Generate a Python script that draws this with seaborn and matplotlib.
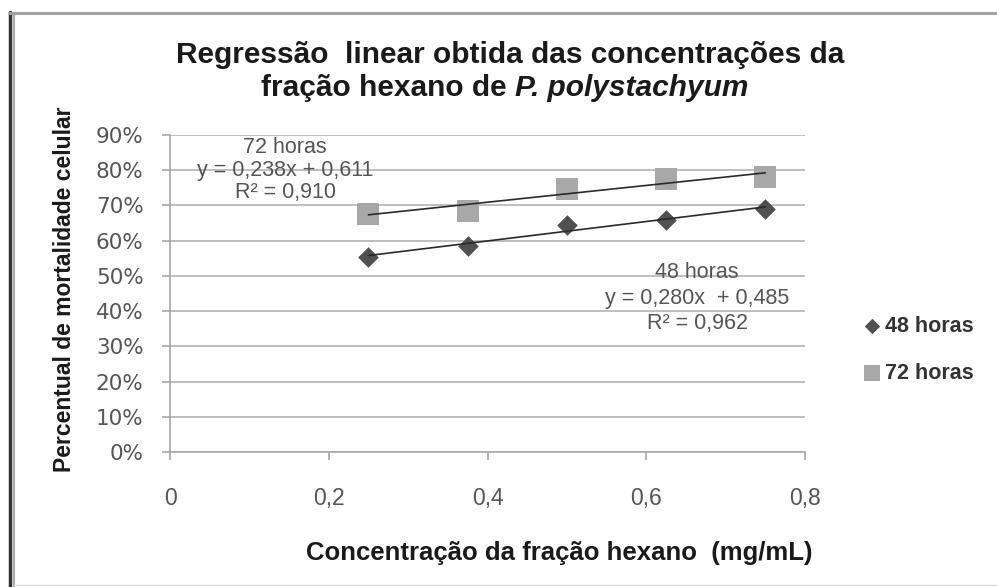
import matplotlib
matplotlib.use("Agg")
import matplotlib.pyplot as plt
import seaborn as sns
import pandas as pd
import numpy as np
from matplotlib.lines import Line2D
from matplotlib.ticker import FuncFormatter

sns.set_theme(style="white")
plt.rcParams['font.family'] = ['Liberation Sans', 'DejaVu Sans']

# ---- data ----
concentracao = [0.25, 0.375, 0.5, 0.625, 0.75]
mort_48h = [0.554, 0.586, 0.645, 0.659, 0.690]
mort_72h = [0.677, 0.684, 0.748, 0.776, 0.780]
series_names = ["48 horas", "72 horas"]
x_ticks = [0, 0.2, 0.4, 0.6, 0.8]
y_ticks = [0, 0.1, 0.2, 0.3, 0.4, 0.5, 0.6, 0.7, 0.8, 0.9]
eq_72 = ["72 horas", "y = 0,238x + 0,611", "R² = 0,910"]
eq_48 = ["48 horas", "y = 0,280x  + 0,485", "R² = 0,962"]
title_l1 = "Regressão  linear obtida das concentrações da"
title_l2a = "fração hexano de "
title_l2b = "P. polystachyum"
xlabel = "Concentração da fração hexano  (mg/mL)"
ylabel = "Percentual de mortalidade celular"

df = pd.DataFrame({
    "conc": concentracao * 2,
    "mort": mort_48h + mort_72h,
    "serie": [series_names[0]] * 5 + [series_names[1]] * 5,
})

W, H = 997, 587
fig = plt.figure(figsize=(W / 100, H / 100), dpi=100)
fig.patch.set_facecolor("white")
ax = fig.add_axes([170 / W, 1 - 452 / H, (805 - 170) / W, (452 - 135) / H])

palette = {series_names[0]: "#505050", series_names[1]: "#a8a8a8"}
markers = {series_names[0]: "D", series_names[1]: "s"}
sizes = {series_names[0]: 110, series_names[1]: 230}

for name in series_names:
    sub = df[df["serie"] == name]
    sns.regplot(data=sub, x="conc", y="mort", scatter=False, ci=None, ax=ax,
                line_kws=dict(color="#2a2a2a", lw=1.2, zorder=4), truncate=True)
for name in series_names:
    sub = df[df["serie"] == name]
    sns.scatterplot(data=sub, x="conc", y="mort", marker=markers[name],
                    color=palette[name], s=sizes[name], linewidth=0, ax=ax,
                    label=name, zorder=3)

ax.set_xlim(0, 0.8)
ax.set_ylim(0, 0.9)
ax.set_xticks(x_ticks)
ax.set_yticks(y_ticks)
ax.xaxis.set_major_formatter(FuncFormatter(lambda v, p: ("%g" % round(v, 2)).replace(".", ",")))
ax.yaxis.set_major_formatter(FuncFormatter(lambda v, p: "%d%%" % round(v * 100)))
ax.yaxis.grid(True, color="#b4b4b4", lw=1.2)
ax.xaxis.grid(False)
ax.set_axisbelow(True)
for s in ["top", "right"]:
    ax.spines[s].set_visible(False)
for s in ["left", "bottom"]:
    ax.spines[s].set_color("#a8a8a8")
    ax.spines[s].set_linewidth(1.2)
ax.tick_params(axis="y", direction="out", length=6, width=1.2, color="#a8a8a8",
               labelsize=15.5, labelcolor="#555555", pad=13, left=True)
ax.tick_params(axis="x", direction="out", length=6, width=1.2, color="#a8a8a8",
               labelsize=16.5, labelcolor="#555555", pad=19, bottom=True)
for lab in ax.get_yticklabels():
    lab.set_fontfamily(["DejaVu Sans"])
ax.set_xlabel("")
ax.set_ylabel("")

# annotations
ax.text(0.145, 0.80, "\n".join(eq_72), ha="center", va="center", fontsize=15.5,
        color="#555555", linespacing=1.1)
ax.text(0.664, 0.437, "\n".join(eq_48), ha="center", va="center", fontsize=15.5,
        color="#555555", linespacing=1.3)

# legend
leg = ax.legend(loc="center left", bbox_to_anchor=(842 / W, 1 - 350 / H),
                bbox_transform=fig.transFigure, frameon=False,
                handletextpad=0.1, labelspacing=1.2, handlelength=1.0,
                prop=dict(size=15.5, weight="bold"), markerscale=0.75)
for t in leg.get_texts():
    t.set_color("#333333")

# titles / labels
fig.text(510 / W, 1 - 55 / H, title_l1, ha="center", va="center",
         fontsize=21.5, fontweight="bold", color="#1a1a1a")
fig.canvas.draw()
r = fig.canvas.get_renderer()
ta = fig.text(0, 1 - 88 / H, title_l2a, ha="left", va="center",
              fontsize=21.5, fontweight="bold", color="#1a1a1a")
tb = fig.text(0, 1 - 88 / H, title_l2b, ha="left", va="center",
              fontsize=21.5, fontweight="bold", style="italic", color="#1a1a1a")
wa = ta.get_window_extent(r).width
wb = tb.get_window_extent(r).width
x0 = 505 - (wa + wb) / 2
ta.set_x(x0 / W)
tb.set_x((x0 + wa) / W)

fig.text(559 / W, 1 - 553 / H, xlabel, ha="center", va="center",
         fontsize=18.5, fontweight="bold", color="#1a1a1a")
fig.text(65 / W, 1 - 289 / H, ylabel, ha="center", va="center", rotation=90,
         fontsize=16.5, fontweight="bold", color="#1a1a1a")

# outer frame
fig.add_artist(Line2D([10 / W, 10 / W], [0, 1 - 12 / H], transform=fig.transFigure,
                      color="#333333", lw=2.5))
fig.add_artist(Line2D([14 / W, 14 / W], [0, 1 - 14 / H], transform=fig.transFigure,
                      color="#aaaaaa", lw=1.5))
fig.add_artist(Line2D([9 / W, 1], [1 - 13 / H, 1 - 13 / H], transform=fig.transFigure,
                      color="#a0a0a0", lw=2.2))
fig.add_artist(Line2D([14 / W, 1], [1 - 585 / H, 1 - 585 / H], transform=fig.transFigure,
                      color="#e0e0e0", lw=1))

fig.savefig("out.png", dpi=100, facecolor="white")
